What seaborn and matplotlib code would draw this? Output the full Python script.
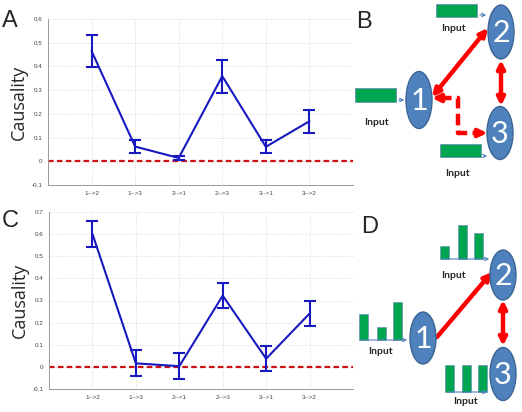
import numpy as np
import seaborn as sns
import matplotlib.pyplot as plt
from matplotlib.patches import Ellipse, Rectangle, FancyArrowPatch

# data
links = ['1-->2', '1-->3', '2-->1', '2-->3', '3-->1', '3-->2']
caus_A = [0.465, 0.062, 0.014, 0.359, 0.061, 0.169]
err_A = [0.067, 0.028, 0.010, 0.069, 0.028, 0.049]
caus_C = [0.601, 0.016, 0.003, 0.322, 0.037, 0.241]
err_C = [0.057, 0.059, 0.058, 0.057, 0.056, 0.058]

sns.set_style("white")
plt.rcParams['font.family'] = ['Liberation Sans', 'DejaVu Sans']

fig = plt.figure(figsize=(5.22, 4.12), dpi=100)
W, H = 522.0, 412.0

def chart(box, vals, errs, ylim, letter, letter_y):
    l, t, r, b = box
    ax = fig.add_axes([l / W, 1 - b / H, (r - l) / W, (b - t) / H])
    pos = np.arange(1, len(links) + 1)
    ax.axhline(0, color='#d01010', ls=(0, (2.5, 1.5)), lw=1.6, zorder=1)
    sns.lineplot(x=pos, y=vals, ax=ax, color='#1818c0', lw=1.5, zorder=3)
    ax.errorbar(pos, vals, yerr=errs, fmt='none', ecolor='#1818c0',
                elinewidth=1.5, capsize=4, capthick=1.5, zorder=3)
    ax.set_xlim(0, 7)
    ax.set_ylim(*ylim)
    ax.set_xticks(pos)
    ax.set_xticklabels(links)
    yt = np.round(np.arange(ylim[0], ylim[1] + 0.01, 0.1), 1)
    ax.set_yticks(yt)
    ax.set_yticklabels(['%g' % v for v in yt])
    ax.grid(True, ls=':', color='#d0d0d0', lw=0.6)
    ax.tick_params(labelsize=4.5, colors='#444444', length=2, direction='in', pad=4)
    for s in ['top', 'right']:
        ax.spines[s].set_visible(False)
    for s in ['left', 'bottom']:
        ax.spines[s].set_color('#999999')
        ax.spines[s].set_linewidth(0.7)
    ax.set_ylabel('Causality', fontsize=13, family=['Open Sans', 'DejaVu Sans'], labelpad=3)
    fig.text(10 / W, 1 - letter_y / H, letter, fontsize=17, ha='center', va='center')
    return ax

chart((48, 19, 353, 185), caus_A, err_A, (-0.1, 0.6), 'A', 21)
chart((49, 212, 353, 389), caus_C, err_C, (-0.1, 0.7), 'C', 221)

# network diagrams drawn in pixel coordinates
d = fig.add_axes([0, 0, 1, 1], zorder=5)
d.set_xlim(0, W)
d.set_ylim(H, 0)
d.axis('off')
d.patch.set_alpha(0)

node_c = '#4f81bd'
green = '#00a550'

def node(x, y, txt, h=54):
    d.add_patch(Ellipse((x, y), 26, h, fc=node_c, ec='#3a6594', lw=1, zorder=3))
    d.text(x, y + 1, txt, color='white', fontsize=22, ha='center', va='center',
           family=['Lato', 'DejaVu Sans'], zorder=4)

def thin(x0, y0, x1, y1):
    d.add_patch(FancyArrowPatch((x0, y0), (x1, y1), arrowstyle='->', mutation_scale=6,
                                color=node_c, lw=0.8, zorder=2))

def red(x0, y0, x1, y1, style='<|-|>'):
    d.add_patch(FancyArrowPatch((x0, y0), (x1, y1), arrowstyle=style, mutation_scale=11,
                                color='#ff0000', lw=3.2, zorder=2, shrinkA=0, shrinkB=0))

def inp(x, y):
    d.text(x, y, 'Input', fontsize=7.5, fontweight='bold', ha='center', va='center',
           family=['Lato', 'DejaVu Sans'])

# panel B
d.text(364, 22, 'B', fontsize=17, ha='center', va='center')
for (x0, y0, x1, y1) in [(436, 4, 477, 17), (355, 88, 396, 102), (440, 144, 481, 157)]:
    d.add_patch(Rectangle((x0, y0), x1 - x0, y1 - y0, fc=green, ec='#6f8fb8', lw=0.6))
thin(477, 15, 489, 15)
thin(396, 100, 407, 100)
thin(481, 156, 490, 156)
inp(453, 28)
inp(376, 122)
inp(457, 173)
red(432, 97, 488, 28)
red(501, 60, 501, 106)
d.plot([440, 458, 458, 478], [98, 98, 133, 133], color='#ff0000', lw=3.2,
       ls=(0, (2.6, 1.2)), solid_capstyle='butt', zorder=2)
red(442, 98, 432, 98, style='-|>')
red(478, 133, 487, 133, style='-|>')
node(419, 100, '1', 57)
node(501, 32, '2', 54)
node(500, 133, '3', 53)

# panel D
d.text(370, 227, 'D', fontsize=17, ha='center', va='center')
bars_D = [((440, 458, 474), (13, 34, 26), 259, 492),
          ((359, 377, 393), (26, 13, 38), 340, 410),
          ((445, 462, 478), (27, 27, 27), 392, 490)]
for xs, hs, base, tip in bars_D:
    for x, h in zip(xs, hs):
        d.add_patch(Rectangle((x, base - h), 9, h, fc=green, ec='#6f8fb8', lw=0.5))
    thin(xs[0], base, tip, base)
inp(453, 275)
inp(380, 352)
inp(465, 402)
red(437, 337, 492, 272, style='-|>')
red(503, 300, 503, 346)
node(423, 338, '1', 52)
node(503, 275, '2', 50)
node(503, 374, '3', 53)

fig.savefig('out.png', dpi=100)
